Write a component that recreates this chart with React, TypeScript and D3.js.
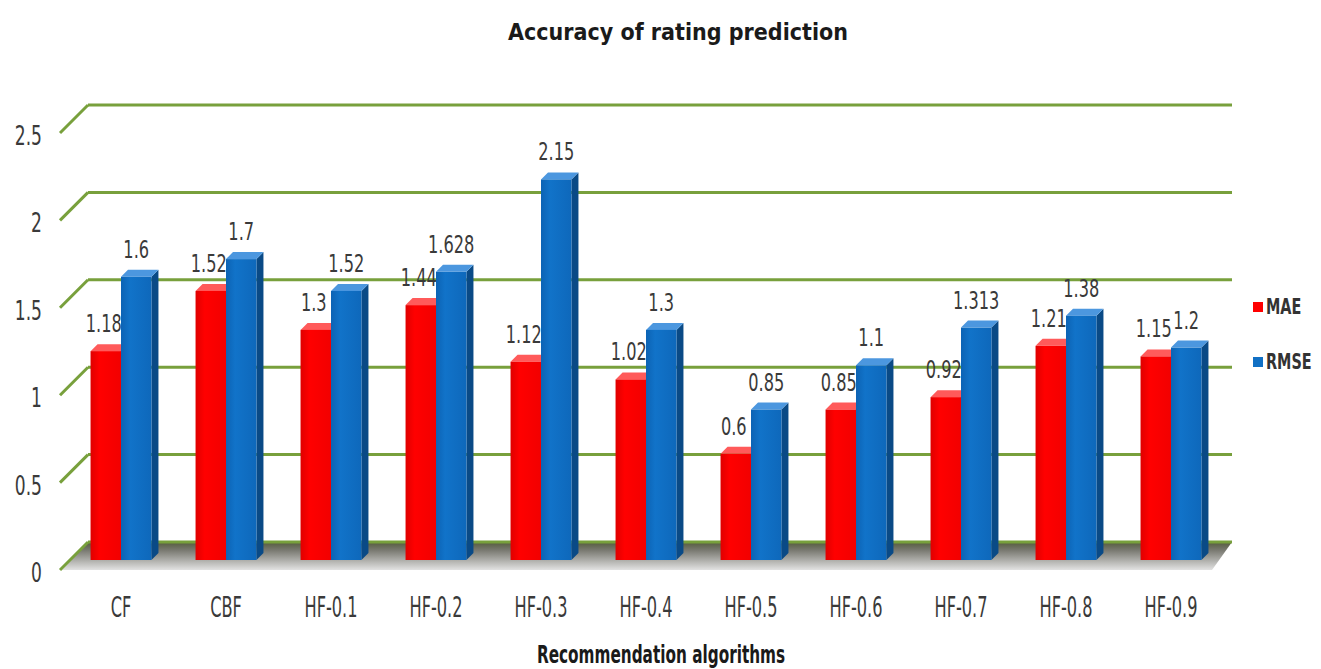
import React from "react";
import * as d3 from "d3";

const categories = ["CF", "CBF", "HF-0.1", "HF-0.2", "HF-0.3", "HF-0.4", "HF-0.5", "HF-0.6", "HF-0.7", "HF-0.8", "HF-0.9"];
const maeValues = [1.18, 1.52, 1.3, 1.44, 1.12, 1.02, 0.6, 0.85, 0.92, 1.21, 1.15];
const rmseValues = [1.6, 1.7, 1.52, 1.628, 2.15, 1.3, 0.85, 1.1, 1.313, 1.38, 1.2];
const maeLabels = ["1.18", "1.52", "1.3", "1.44", "1.12", "1.02", "0.6", "0.85", "0.92", "1.21", "1.15"];
const rmseLabels = ["1.6", "1.7", "1.52", "1.628", "2.15", "1.3", "0.85", "1.1", "1.313", "1.38", "1.2"];
const seriesNames = ["MAE", "RMSE"];
const yTicks = [0, 0.5, 1, 1.5, 2, 2.5];
const yTickLabels = ["0", "0.5", "1", "1.5", "2", "2.5"];

const W = 1321;
const H = 669;
const FONT = "'Liberation Sans Narrow', 'DejaVu Sans Condensed', 'Open Sans', sans-serif";

function T(props: { x: number; y: number; sy: number; size: number; anchor?: string; weight?: string; fill?: string; children: React.ReactNode }) {
  const { x, y, sy, size, anchor = "middle", weight = "normal", fill = "#3a3a3a", children } = props;
  return (
    <text transform={`translate(${x},${y}) scale(1,${sy})`} textAnchor={anchor as any} fontSize={size} fontWeight={weight} fill={fill} fontFamily={FONT}>
      {children}
    </text>
  );
}

export default function App() {
  const x0 = d3.scaleBand<string>().domain(categories).range([68.5, 1223.5]).paddingInner(0.42).paddingOuter(0.21);
  const x1 = d3.scaleBand<string>().domain(seriesNames).range([0, x0.bandwidth()]);
  const yBar = d3.scaleLinear().domain([0, 2.5]).range([560, 560 - 2.5 * 177]);
  const yBack = d3.scaleLinear().domain([0, 2.5]).range([542, 105]);
  const depth = 28;
  const backLeft = 88;
  const backRight = 1232;
  const bd = 7;

  const colors = {
    MAE: { front: "url(#gRed)", side: "#a80000", top: "#ff5a5a" },
    RMSE: { front: "url(#gBlue)", side: "#0a4a86", top: "#4c97df" },
  } as const;

  const bars: React.ReactNode[] = [];
  categories.forEach((c, i) => {
    [["MAE", maeValues[i], maeLabels[i]], ["RMSE", rmseValues[i], rmseLabels[i]]].forEach(([s, v, lab]) => {
      const name = s as "MAE" | "RMSE";
      const x = (x0(c) as number) + (x1(name) as number);
      const w = x1.bandwidth();
      const y = yBar(v as number);
      const base = yBar(0);
      const col = colors[name];
      bars.push(
        <g key={c + name}>
          <polygon points={`${x + w},${y} ${x + w + bd},${y - bd} ${x + w + bd},${base - bd} ${x + w},${base}`} fill={col.side} />
          <polygon points={`${x},${y} ${x + bd},${y - bd} ${x + w + bd},${y - bd} ${x + w},${y}`} fill={col.top} />
          <rect x={x} y={y} width={w} height={base - y} fill={col.front} />
          <T x={x + w / 2 - (name === "MAE" ? 2 : 0)} y={y - 19} sy={1.35} size={18}>{lab as string}</T>
        </g>
      );
    });
  });

  return (
    <svg width={W} height={H} style={{ position: "absolute", left: 0, top: 0, background: "#fff" }}>
      <defs>
        <linearGradient id="gFloor" x1="0" y1="0" x2="0" y2="1">
          <stop offset="0" stopColor="#555b3c" />
          <stop offset="0.3" stopColor="#7a7a72" />
          <stop offset="1" stopColor="#e2e2e2" />
        </linearGradient>
        <linearGradient id="gRed" x1="0" y1="0" x2="1" y2="0">
          <stop offset="0" stopColor="#e00000" />
          <stop offset="0.3" stopColor="#ff0000" />
          <stop offset="1" stopColor="#f20000" />
        </linearGradient>
        <linearGradient id="gBlue" x1="0" y1="0" x2="1" y2="0">
          <stop offset="0" stopColor="#0c63b4" />
          <stop offset="0.3" stopColor="#1173c9" />
          <stop offset="1" stopColor="#0e68bb" />
        </linearGradient>
      </defs>
      <text x={678} y={40} textAnchor="middle" fontSize={23} fontWeight="bold" fill="#1a1a1a" fontFamily={FONT}>Accuracy of rating prediction</text>
      {/* floor */}
      <polygon points={`${backLeft - depth + 2},${yBack(0) + depth} ${backRight - 20},${yBack(0) + depth} ${backRight},${yBack(0)} ${backLeft},${yBack(0)}`} fill="url(#gFloor)" />
      {/* gridlines */}
      {yTicks.map((t, i) => (
        <g key={"g" + i}>
          <line x1={backLeft} x2={backRight} y1={yBack(t)} y2={yBack(t)} stroke="#78a03c" strokeWidth={3} />
          <line x1={backLeft - depth} x2={backLeft} y1={yBack(t) + depth} y2={yBack(t)} stroke="#78a03c" strokeWidth={3} />
          <T x={42} y={yBack(t) + 40} sy={1.4} size={19} anchor="end">{yTickLabels[i]}</T>
        </g>
      ))}
      {bars}
      {categories.map((c) => (
        <T key={"c" + c} x={(x0(c) as number) + x0.bandwidth() / 2} y={617} sy={1.55} size={18}>{c}</T>
      ))}
      <T x={661} y={663} sy={1.45} size={17} weight="bold" fill="#1a1a1a">Recommendation algorithms</T>
      {seriesNames.map((s, i) => (
        <g key={"l" + s}>
          <rect x={1253} y={302 + i * 55} width={10} height={10} fill={s === "MAE" ? "#ff0000" : "#1170c4"} />
          <T x={1266} y={314 + i * 55} sy={1.28} size={16} weight="bold" fill="#333" anchor="start">{s}</T>
        </g>
      ))}
    </svg>
  );
}
